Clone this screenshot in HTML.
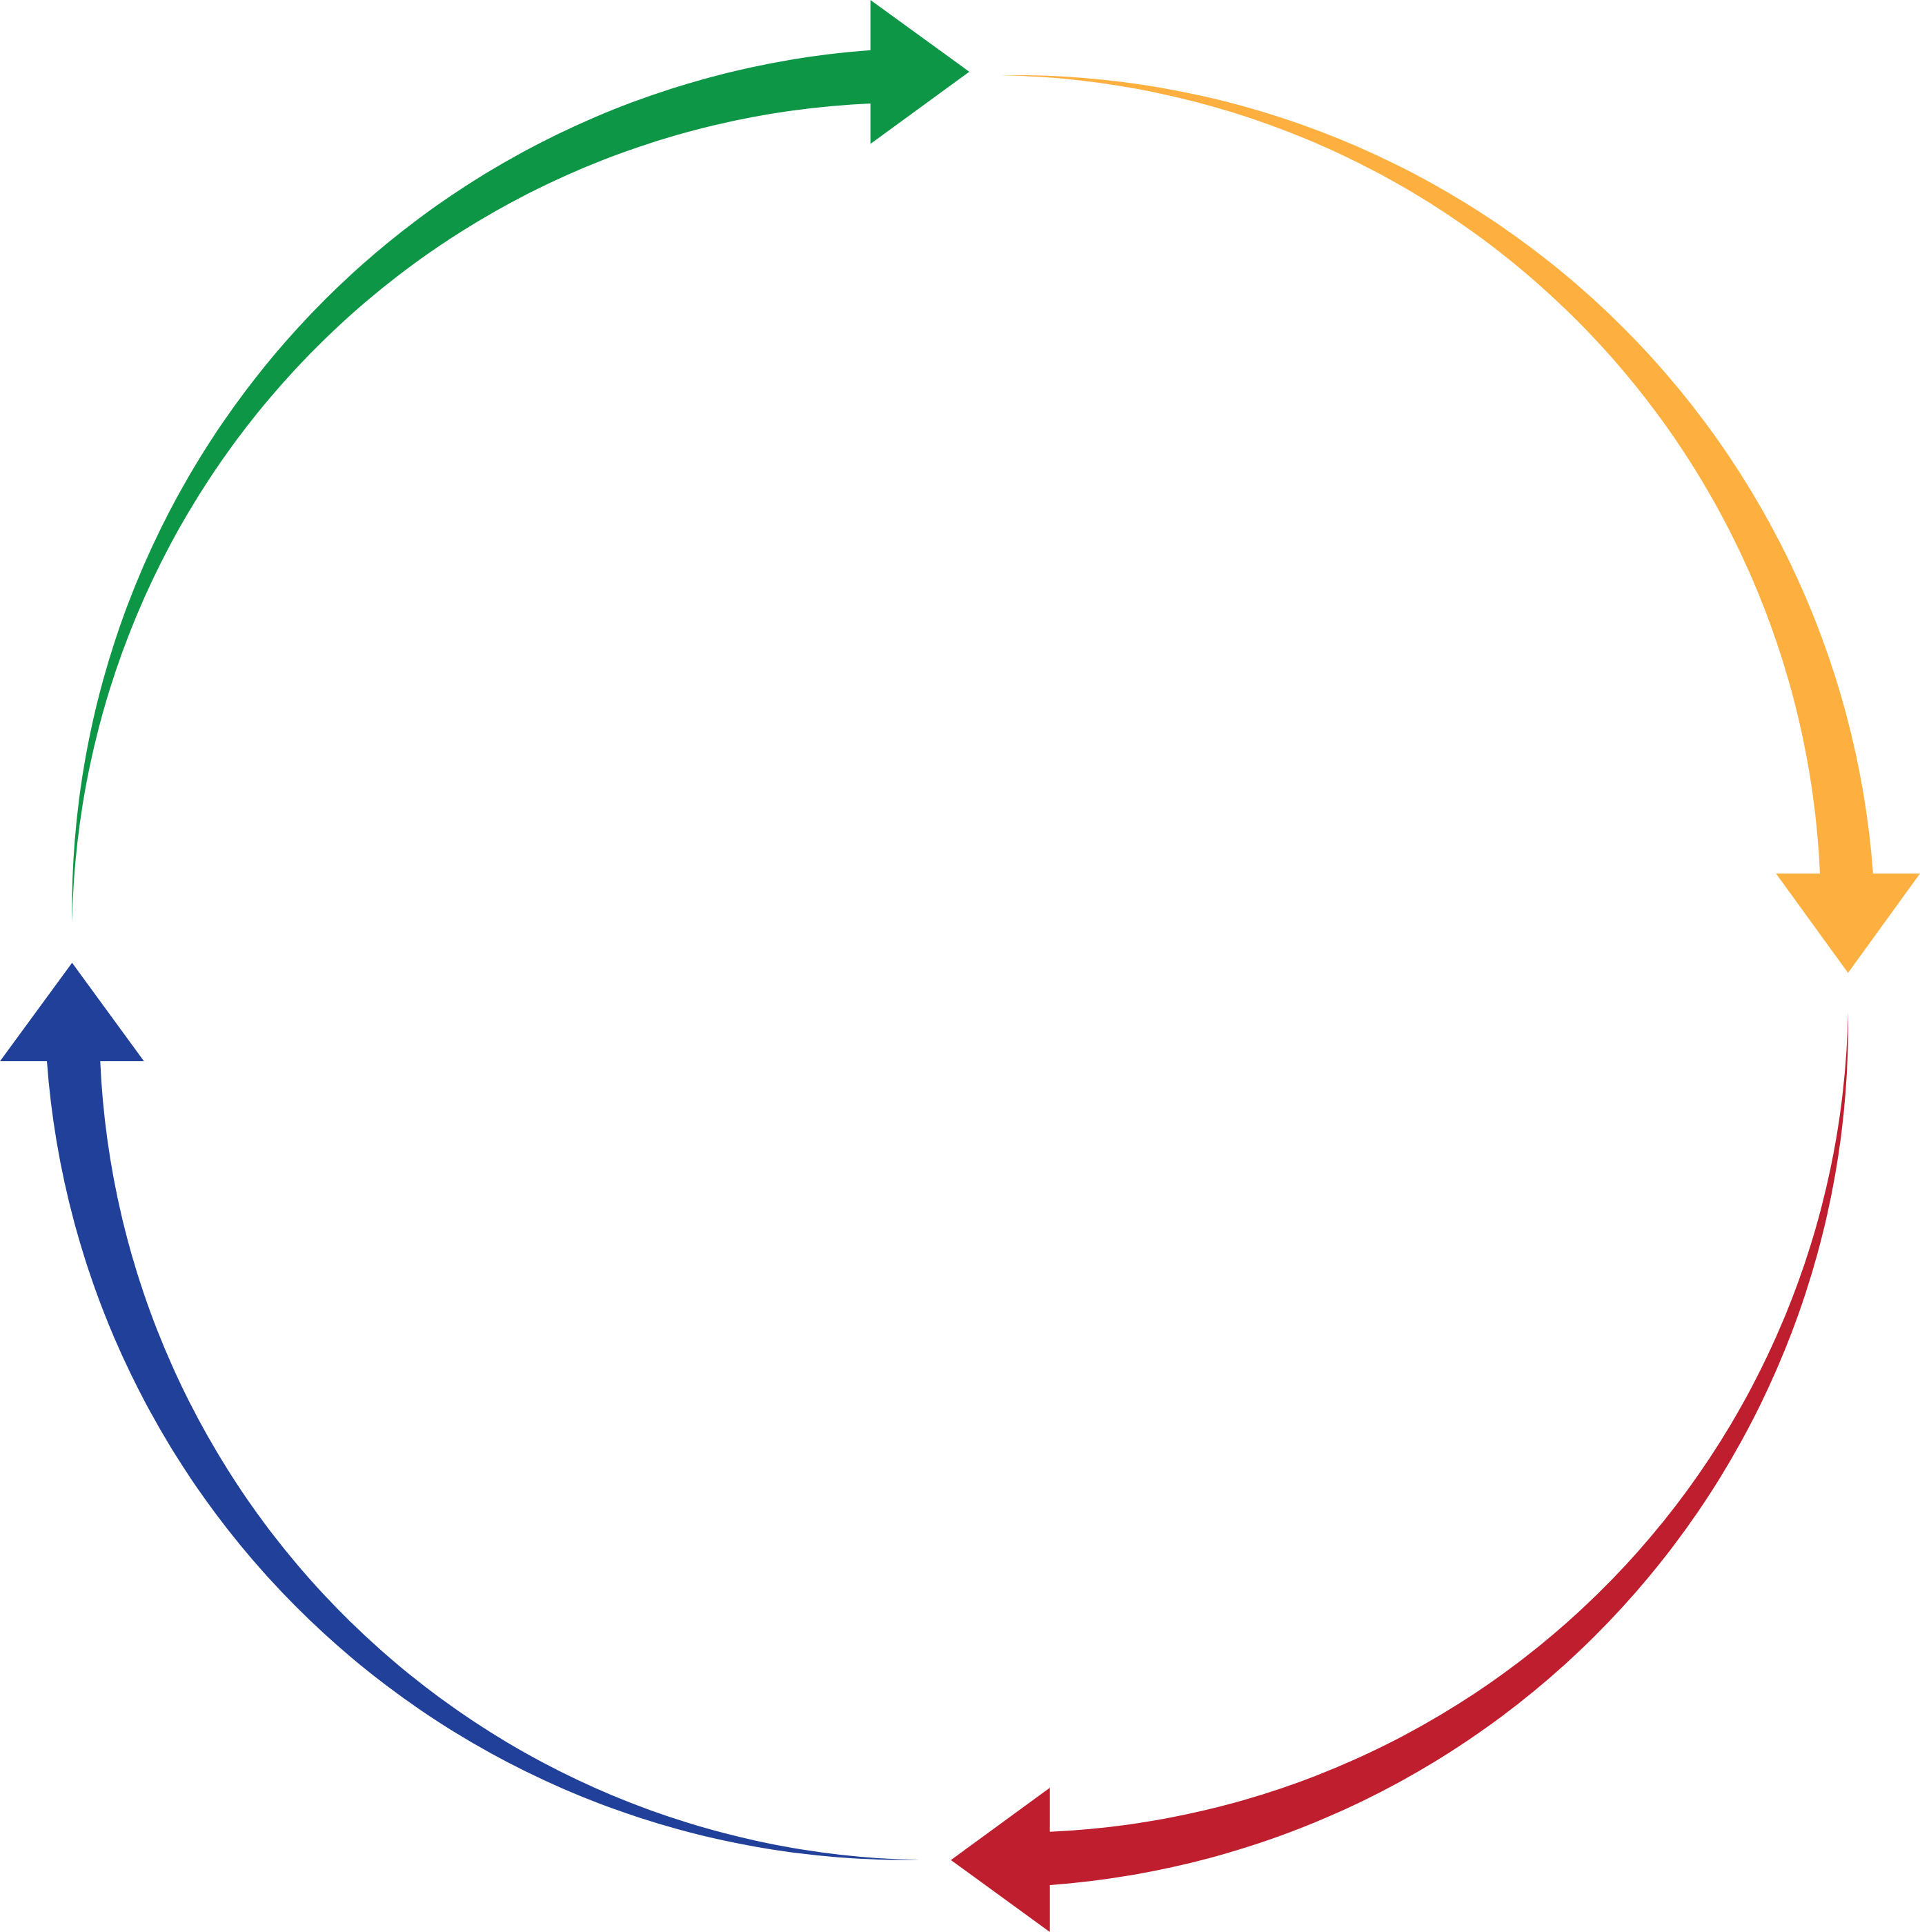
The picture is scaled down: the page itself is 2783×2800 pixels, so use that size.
<!DOCTYPE html>
<html>
<head>
<meta charset="utf-8">
<style>
html,body{margin:0;padding:0;background:#fff;width:2783px;height:2800px;overflow:hidden}
svg{display:block}
</style>
</head>
<body>
<svg xmlns="http://www.w3.org/2000/svg" width="2783" height="2800" viewBox="0 0 2783 2800">
<rect width="2783" height="2800" fill="#ffffff"/>
<!-- green: lower-left to top -->
<path fill="#0e9647" d="M104.5 1337 A1248.8 1248.8 0 0 1 1261.7 72.7 L1261.7 0 L1405 104 L1261.7 208.5 L1261.7 150 A1210.3 1210.3 0 0 0 104.5 1337 Z"/>
<!-- orange: top to right -->
<path fill="#fdb040" d="M1450 109 A1248.8 1248.8 0 0 1 2715 1266 L2783 1266 L2678.7 1410 L2574.3 1266 L2638 1266 A1210.3 1210.3 0 0 0 1450 109 Z"/>
<!-- red: right to bottom -->
<path fill="#be1e2d" d="M2678.7 1467.7 A1248.8 1248.8 0 0 1 1521.7 2732 L1521.7 2800 L1378.3 2695.7 L1521.7 2591 L1521.7 2654.7 A1210.3 1210.3 0 0 0 2678.7 1467.7 Z"/>
<!-- blue: bottom to left -->
<path fill="#21409a" d="M1332.7 2695.5 A1248.8 1248.8 0 0 1 68 1538 L0 1538 L104.5 1395.3 L208.7 1538 L145.3 1538 A1210.3 1210.3 0 0 0 1332.7 2695.5 Z"/>
</svg>
</body>
</html>
